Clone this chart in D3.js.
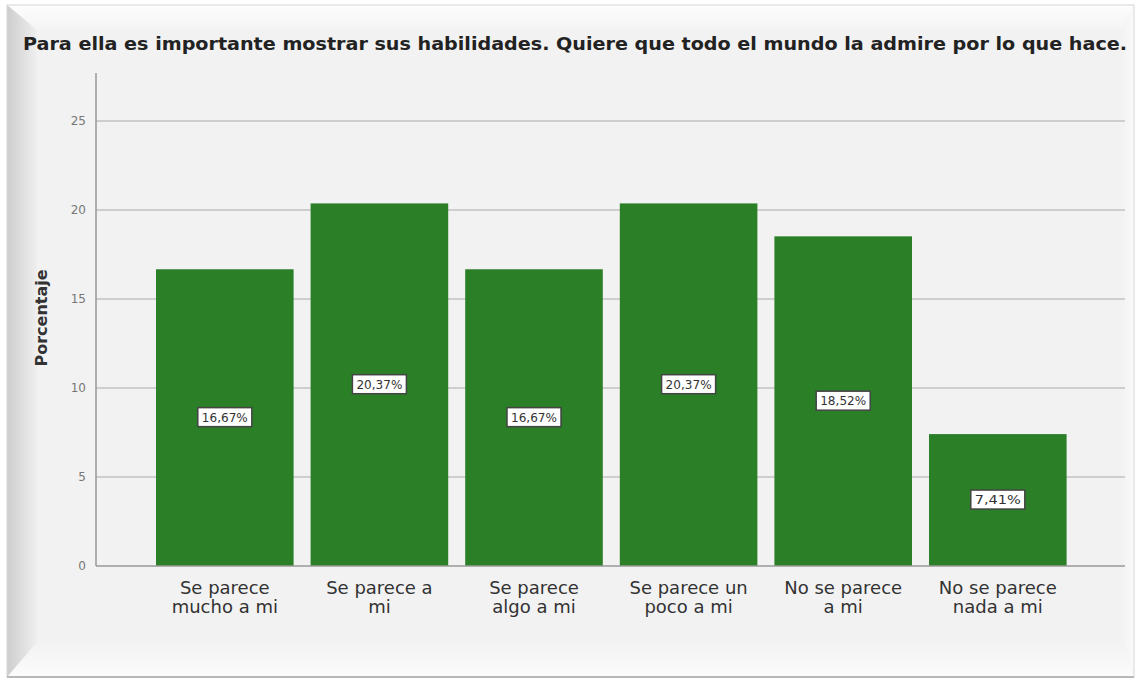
<!DOCTYPE html>
<html>
<head>
<meta charset="utf-8">
<script src="https://cdn.jsdelivr.net/npm/d3@7"></script>
<style>
  body { margin: 0; background: #ffffff; }
  svg { display: block; }
</style>
</head>
<body>
<div id="chart"></div>
<script>
// chart data
const title = "Para ella es importante mostrar sus habilidades. Quiere que todo el mundo la admire por lo que hace.";
const categories = [
    ["Se parece", "mucho a mi"],
    ["Se parece a", "mi"],
    ["Se parece", "algo a mi"],
    ["Se parece un", "poco a mi"],
    ["No se parece", "a mi"],
    ["No se parece", "nada a mi"]
];
const values = [16.67, 20.37, 16.67, 20.37, 18.52, 7.41];
const yTicks = [0, 5, 10, 15, 20, 25];

const width = 1139, height = 679;
const barColor = "#2a7f27";
const font = "'DejaVu Sans', Verdana, sans-serif";

const svg = d3.select("#chart").append("svg")
    .attr("width", width)
    .attr("height", height);

const defs = svg.append("defs");
function grad(id, x2, y2, c1, c2) {
    const g = defs.append("linearGradient").attr("id", id)
        .attr("x1", 0).attr("y1", 0).attr("x2", x2).attr("y2", y2);
    g.append("stop").attr("offset", "0%").attr("stop-color", c1);
    g.append("stop").attr("offset", "100%").attr("stop-color", c2);
}
grad("gLeft", 1, 0, "#cdcdcd", "#efefef");
grad("gTop", 0, 1, "#fdfdfd", "#f4f4f4");
grad("gBottom", 0, 1, "#f2f2f2", "#fcfcfc");
grad("gRight", 1, 0, "#f2f2f2", "#fbfbfb");

// bevelled frame
const L = 7, T = 5, R = 1134, B = 677;
const iL = 37, iT = 30, iR = 1122, iB = 642;
svg.append("rect")
    .attr("x", L).attr("y", T).attr("width", R - L).attr("height", B - T)
    .attr("fill", "#f2f2f2");
const poly = (pts, fill) => svg.append("polygon")
    .attr("points", pts.map(p => p.join(",")).join(" "))
    .attr("fill", fill);
poly([[L, T], [R, T], [iR, iT], [iL, iT]], "url(#gTop)");
poly([[L, B], [iL, iB], [iR, iB], [R, B]], "url(#gBottom)");
poly([[R, T], [iR, iT], [iR, iB], [R, B]], "url(#gRight)");
poly([[L, T], [iL, iT], [iL, iB], [L, B]], "url(#gLeft)");
svg.append("rect")
    .attr("x", L).attr("y", T).attr("width", R - L).attr("height", B - T)
    .attr("fill", "none").attr("stroke", "#d6d6d6").attr("stroke-width", 1);
svg.append("line")
    .attr("x1", L).attr("x2", R).attr("y1", B).attr("y2", B)
    .attr("stroke", "#b8b8b8").attr("stroke-width", 2);

// scales
const plotLeft = 96, plotRight = 1125, plotTop = 73;
const y = d3.scaleLinear().domain([0, 25]).range([566, 121]);
const x = d3.scaleBand()
    .domain(d3.range(values.length))
    .range([139, 1083.6])
    .padding(0.11);

// gridlines
svg.append("g").selectAll("line")
    .data(yTicks.filter(d => d > 0))
    .join("line")
    .attr("x1", plotLeft).attr("x2", plotRight)
    .attr("y1", d => y(d)).attr("y2", d => y(d))
    .attr("stroke", "#c2c2c2").attr("stroke-width", 1.3);

// y axis
const yAxis = svg.append("g")
    .attr("transform", `translate(${plotLeft},0)`)
    .call(d3.axisLeft(y).tickValues(yTicks).tickSize(0).tickPadding(10));
yAxis.select(".domain").remove();
yAxis.selectAll("text")
    .attr("font-family", font).attr("font-size", 12).attr("fill", "#777");
svg.append("line")
    .attr("x1", plotLeft).attr("x2", plotLeft)
    .attr("y1", plotTop).attr("y2", y(0))
    .attr("stroke", "#999").attr("stroke-width", 1.5);

// bars
svg.append("g").selectAll("rect")
    .data(values)
    .join("rect")
    .attr("x", (d, i) => x(i))
    .attr("width", x.bandwidth())
    .attr("y", d => y(d))
    .attr("height", d => y(0) - y(d))
    .attr("fill", barColor);

// baseline
svg.append("line")
    .attr("x1", plotLeft).attr("x2", plotRight)
    .attr("y1", y(0)).attr("y2", y(0))
    .attr("stroke", "#999").attr("stroke-width", 1.5);

// value labels
const labels = svg.append("g").selectAll("g")
    .data(values)
    .join("g")
    .attr("transform", (d, i) => `translate(${x(i) + x.bandwidth() / 2},${(y(d) + y(0)) / 2})`);
labels.append("rect")
    .attr("x", -27).attr("y", -10).attr("width", 54).attr("height", 19)
    .attr("fill", "#ffffff").attr("stroke", "#444").attr("stroke-width", 1.5);
labels.append("text")
    .attr("text-anchor", "middle").attr("dy", "0.35em")
    .attr("font-family", font).attr("font-size", 12).attr("fill", "#333")
    .attr("textLength", 46).attr("lengthAdjust", "spacingAndGlyphs")
    .text(d => d.toFixed(2).replace(".", ",") + "%");

// category labels
const cat = svg.append("g").selectAll("text")
    .data(categories)
    .join("text")
    .attr("text-anchor", "middle")
    .attr("font-family", font).attr("font-size", 18).attr("fill", "#333");
cat.selectAll("tspan")
    .data((d, i) => d.map(t => ({ t, i })))
    .join("tspan")
    .attr("x", d => x(d.i) + x.bandwidth() / 2)
    .attr("y", (d, j) => 594 + j * 19)
    .text(d => d.t);

// y title
svg.append("text")
    .attr("transform", "translate(47,318) rotate(-90)")
    .attr("text-anchor", "middle")
    .attr("font-family", font).attr("font-size", 16).attr("font-weight", "bold")
    .attr("fill", "#333")
    .text("Porcentaje");

// chart title
svg.append("text")
    .attr("x", 23).attr("y", 50)
    .attr("font-family", font).attr("font-size", 17).attr("font-weight", "bold")
    .attr("fill", "#222")
    .attr("textLength", 1104).attr("lengthAdjust", "spacingAndGlyphs")
    .text(title);
</script>
</body>
</html>
